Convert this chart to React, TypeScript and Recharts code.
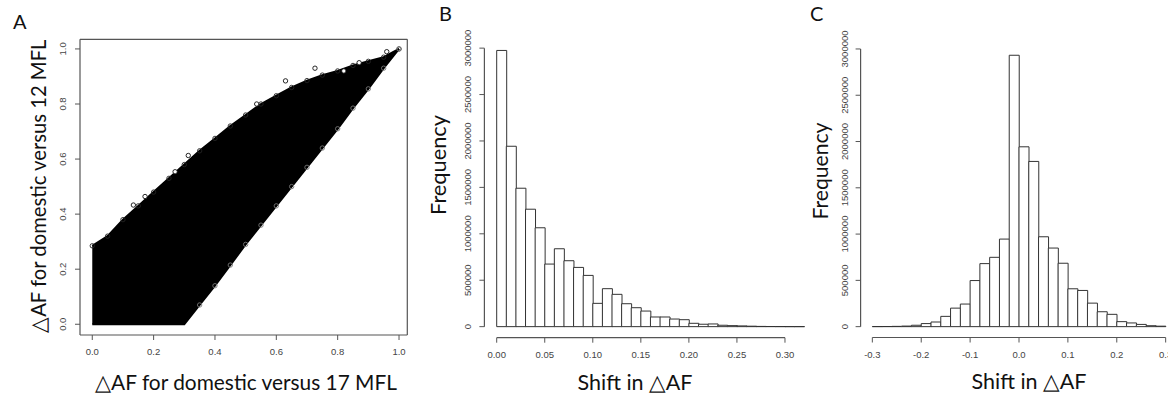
import React from "react";
import {
  Area,
  Bar,
  ComposedChart,
  ReferenceLine,
  Scatter,
  XAxis,
  YAxis,
} from "recharts";

// Panel A: envelope of the delta-AF scatter cloud (x, lower edge, upper edge)
const aX = [0, 0.05, 0.1, 0.15, 0.2, 0.25, 0.3, 0.35, 0.4, 0.45, 0.5, 0.55, 0.6, 0.65, 0.7, 0.75, 0.8, 0.85, 0.9, 0.95, 1.0];
const aLow = [0, 0, 0, 0, 0, 0, 0, 0.07, 0.14, 0.215, 0.29, 0.36, 0.43, 0.5, 0.57, 0.64, 0.71, 0.785, 0.855, 0.93, 1.0];
const aHigh = [0.285, 0.32, 0.38, 0.43, 0.48, 0.53, 0.58, 0.63, 0.675, 0.72, 0.76, 0.8, 0.83, 0.86, 0.885, 0.905, 0.92, 0.94, 0.955, 0.97, 1.0];
// stray points above the cloud
const aOutX = [0.134, 0.172, 0.27, 0.313, 0.536, 0.63, 0.726, 0.82, 0.87, 0.96];
const aOutY = [0.433, 0.464, 0.554, 0.613, 0.8, 0.884, 0.93, 0.92, 0.95, 0.99];
const aTicks = [0, 0.2, 0.4, 0.6, 0.8, 1.0];

// Panel B: histogram of shift in delta-AF, bins of 0.01 (bin centres)
const bBins = [
  0.005, 0.015, 0.025, 0.035, 0.045, 0.055, 0.065, 0.075, 0.085, 0.095,
  0.105, 0.115, 0.125, 0.135, 0.145, 0.155, 0.165, 0.175, 0.185, 0.195,
  0.205, 0.215, 0.225, 0.235, 0.245, 0.255, 0.265, 0.275, 0.285, 0.295,
  0.305, 0.315,
];
const bCounts = [
  2975000, 1943000, 1491000, 1265000, 1065000, 674000, 839000, 710000, 638000, 552000,
  251000, 409000, 348000, 247000, 204000, 168000, 104000, 104000, 82000, 75000,
  36000, 26000, 29000, 15000, 11000, 8000, 5000, 2500, 1500, 1000,
  500, 300,
];
const bTicks = [0, 0.05, 0.1, 0.15, 0.2, 0.25, 0.3];

// Panel C: histogram of shift in delta-AF, bins of 0.02 (bin centres)
const cBins = [
  -0.29, -0.27, -0.25, -0.23, -0.21, -0.19, -0.17, -0.15, -0.13, -0.11,
  -0.09, -0.07, -0.05, -0.03, -0.01, 0.01, 0.03, 0.05, 0.07, 0.09,
  0.11, 0.13, 0.15, 0.17, 0.19, 0.21, 0.23, 0.25, 0.27, 0.29,
];
const cCounts = [
  1000, 1500, 3000, 6000, 15000, 33000, 50000, 111000, 200000, 244000,
  498000, 681000, 749000, 946000, 2932000, 1943000, 1785000, 971000, 849000, 685000,
  409000, 391000, 254000, 161000, 133000, 54000, 40000, 24000, 10000, 5000,
];
const cTicks = [-0.3, -0.2, -0.1, 0, 0.1, 0.2, 0.3];

const freqTicks = [0, 500000, 1000000, 1500000, 2000000, 2500000, 3000000];

const axisColor = "#555";
const tickFont = "'Liberation Sans', Arial, sans-serif";
const titleFont = "Lato, 'Open Sans', sans-serif";

const scatterBand = aX.map((x, i) => ({ x, band: [aLow[i], aHigh[i]] }));
const edgeHigh = aX.map((x, i) => ({ x, y: aHigh[i] }));
const edgeLow = aX.map((x, i) => ({ x, y: aLow[i] })).filter((p) => p.y > 0);
const outliers = aOutX.map((x, i) => ({ x, y: aOutY[i] }));
const bData = bBins.map((x, i) => ({ x, n: bCounts[i] }));
const cData = cBins.map((x, i) => ({ x, n: cCounts[i] }));

const A_X: [number, number] = [-0.04, 1.027];
const A_Y: [number, number] = [-0.039, 1.035];

function makeXTick(fmt: (v: number) => string) {
  return (props: any) => (
    <text
      x={props.x}
      y={props.y + 15}
      textAnchor="middle"
      fontSize={9.5}
      fontFamily={tickFont}
      fill="#444"
    >
      {fmt(props.payload.value)}
    </text>
  );
}

function makeYTick(fmt: (v: number) => string, gap: number) {
  return (props: any) => {
    const tx = props.x - gap;
    return (
      <text
        transform={`translate(${tx},${props.y}) rotate(-90)`}
        textAnchor="middle"
        fontSize={9.5}
        fontFamily={tickFont}
        fill="#444"
      >
        {fmt(props.payload.value)}
      </text>
    );
  };
}

// open circles, like R's pch = 1
const ring = (stroke: string, fill: string) => (props: any) =>
  <circle cx={props.cx} cy={props.cy} r={2.2} fill={fill} stroke={stroke} strokeWidth={0.9} />;

function PanelA() {
  const edge = { stroke: axisColor, strokeWidth: 1.2, ifOverflow: "visible" as const };
  return (
    <ComposedChart
      width={420}
      height={394}
      data={scatterBand}
      margin={{ top: 39.3, right: 12.7, bottom: 29, left: 50 }}
    >
      <XAxis
        dataKey="x"
        type="number"
        domain={A_X}
        allowDataOverflow
        ticks={aTicks}
        axisLine={false}
        tickLine={{ stroke: axisColor }}
        tickSize={5}
        tickMargin={0}
        height={30}
        tick={makeXTick((v) => v.toFixed(1))}
      />
      <YAxis
        dataKey="y"
        type="number"
        domain={A_Y}
        allowDataOverflow
        ticks={aTicks}
        axisLine={false}
        tickLine={{ stroke: axisColor }}
        tickSize={5}
        tickMargin={0}
        width={30}
        tick={makeYTick((v) => v.toFixed(1), 9)}
      />
      <Area
        type="linear"
        dataKey="band"
        fill="#000"
        fillOpacity={1}
        stroke="#000"
        strokeWidth={2}
        isAnimationActive={false}
        dot={false}
        activeDot={false}
      />
      <Scatter data={edgeHigh} dataKey="y" shape={ring("#222", "none")} isAnimationActive={false} />
      <Scatter data={edgeLow} dataKey="y" shape={ring("#777", "none")} isAnimationActive={false} />
      <Scatter data={outliers} dataKey="y" shape={ring("#111", "#fff")} isAnimationActive={false} />
      {/* plot box */}
      <ReferenceLine segment={[{ x: A_X[0], y: A_Y[0] }, { x: A_X[1], y: A_Y[0] }]} {...edge} />
      <ReferenceLine segment={[{ x: A_X[0], y: A_Y[1] }, { x: A_X[1], y: A_Y[1] }]} {...edge} />
      <ReferenceLine segment={[{ x: A_X[0], y: A_Y[0] }, { x: A_X[0], y: A_Y[1] }]} {...edge} />
      <ReferenceLine segment={[{ x: A_X[1], y: A_Y[0] }, { x: A_X[1], y: A_Y[1] }]} {...edge} />
    </ComposedChart>
  );
}

interface HistProps {
  data: { x: number; n: number }[];
  width: number;
  margin: { top: number; right: number; bottom: number; left: number };
  xDomain: [number, number];
  yDomain: [number, number];
  xTicks: number[];
  xFmt: (v: number) => string;
}

function Histogram({ data, width, margin, xDomain, yDomain, xTicks, xFmt }: HistProps) {
  const first = xTicks[0];
  const last = xTicks[xTicks.length - 1];
  return (
    <ComposedChart
      width={width}
      height={394}
      data={data}
      margin={margin}
      barCategoryGap={0}
      barGap={0}
    >
      <XAxis
        dataKey="x"
        type="number"
        domain={xDomain}
        allowDataOverflow
        ticks={xTicks}
        axisLine={false}
        tickLine={{ stroke: axisColor }}
        tickSize={5}
        tickMargin={0}
        height={30}
        tick={makeXTick(xFmt)}
      />
      <YAxis
        type="number"
        domain={yDomain}
        allowDataOverflow
        ticks={freqTicks}
        axisLine={false}
        tickLine={{ stroke: axisColor }}
        tickSize={5}
        tickMargin={0}
        width={30}
        tick={makeYTick((v) => String(v), 8)}
      />
      <Bar
        dataKey="n"
        fill="#fff"
        stroke="#333"
        strokeWidth={1}
        isAnimationActive={false}
      />
      <ReferenceLine
        segment={[
          { x: xDomain[0], y: 0 },
          { x: xDomain[0], y: 3000000 },
        ]}
        stroke={axisColor}
        strokeWidth={1.2}
      />
      <ReferenceLine
        segment={[
          { x: first, y: yDomain[0] },
          { x: last, y: yDomain[0] },
        ]}
        stroke={axisColor}
        strokeWidth={1.2}
      />
    </ComposedChart>
  );
}

const titleStyle = { fontFamily: titleFont, fill: "#111" };

export default function App() {
  return (
    <div
      style={{
        position: "fixed",
        left: 0,
        top: 0,
        width: 1168,
        height: 394,
        overflow: "hidden",
        background: "#fff",
      }}
    >
      <div style={{ position: "absolute", left: 0, top: 0 }}>
        <PanelA />
      </div>
      <div style={{ position: "absolute", left: 420, top: 0 }}>
        <Histogram
          data={bData}
          width={420}
          margin={{ top: 39.4, right: 23.5, bottom: 26.3, left: 34.4 }}
          xDomain={[-0.0128, 0.3328]}
          yDomain={[-119000, 3094000]}
          xTicks={bTicks}
          xFmt={(v) => v.toFixed(2)}
        />
      </div>
      <div style={{ position: "absolute", left: 820, top: 0 }}>
        <Histogram
          data={cData}
          width={360}
          margin={{ top: 44.4, right: 2.6, bottom: 26.5, left: 10.6 }}
          xDomain={[-0.324, 0.324]}
          yDomain={[-117300, 3049300]}
          xTicks={cTicks}
          xFmt={(v) => v.toFixed(1)}
        />
      </div>
      <svg
        width={1168}
        height={394}
        style={{ position: "absolute", left: 0, top: 0, pointerEvents: "none" }}
      >
        <g style={titleStyle}>
          <text x={13} y={29} fontSize={20}>A</text>
          <text x={439} y={21} fontSize={20}>B</text>
          <text x={810} y={21} fontSize={20}>C</text>

          <text x={246} y={390} fontSize={22} textAnchor="middle" textLength={302} lengthAdjust="spacingAndGlyphs">
            △AF for domestic versus 17 MFL
          </text>
          <text transform="translate(46,186) rotate(-90)" fontSize={22} textAnchor="middle" textLength={293} lengthAdjust="spacingAndGlyphs">
            △AF for domestic versus 12 MFL
          </text>

          <text x={635} y={390} fontSize={22} textAnchor="middle" textLength={115} lengthAdjust="spacingAndGlyphs">
            Shift in △AF
          </text>
          <text transform="translate(446,165) rotate(-90)" fontSize={22} textAnchor="middle" textLength={100} lengthAdjust="spacingAndGlyphs">
            Frequency
          </text>

          <text x={1029} y={389} fontSize={22} textAnchor="middle" textLength={115} lengthAdjust="spacingAndGlyphs">
            Shift in △AF
          </text>
          <text transform="translate(828,171) rotate(-90)" fontSize={22} textAnchor="middle" textLength={97} lengthAdjust="spacingAndGlyphs">
            Frequency
          </text>
        </g>
      </svg>
    </div>
  );
}
